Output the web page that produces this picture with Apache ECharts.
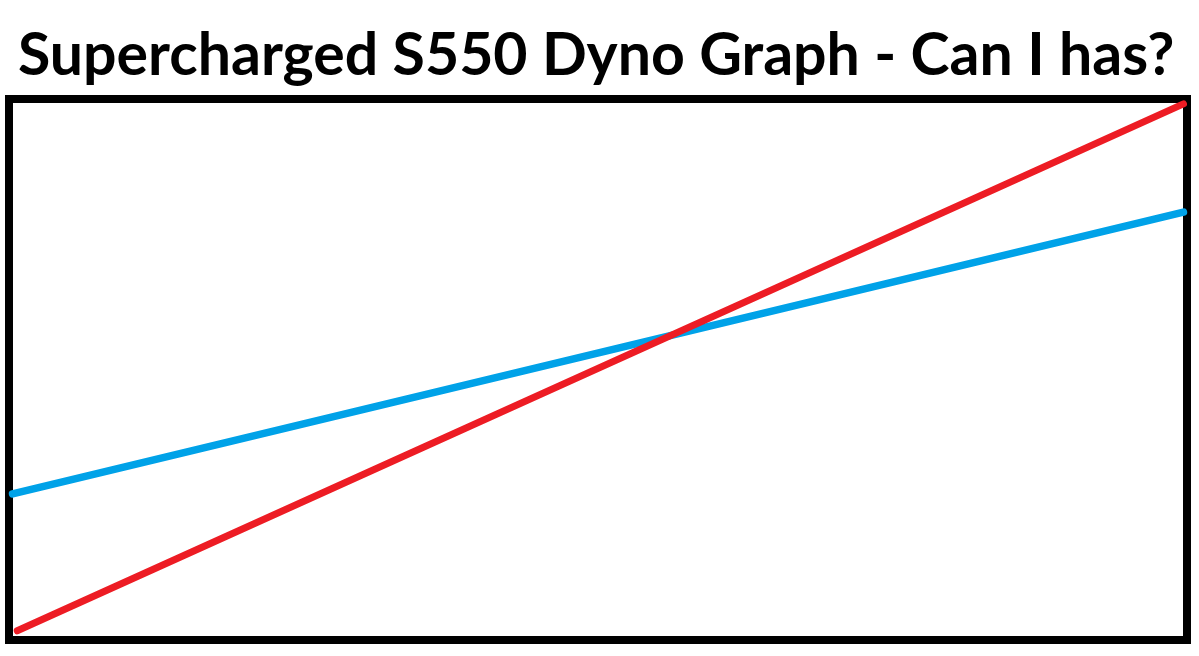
<!DOCTYPE html>
<html>
<head>
<meta charset="utf-8">
<script src="https://cdn.jsdelivr.net/npm/echarts@6/dist/echarts.min.js"></script>
<style>
  html, body { margin: 0; padding: 0; background: #fff; }
  #chart { width: 1199px; height: 656px; }
</style>
</head>
<body>
<div id="chart"></div>
<script>
// hand drawn lines (0-100 on both axes)
const redLine = [[0.7, 1.7], [99.7, 99.1]]
const blueLine = [[0.3, 27.0], [99.7, 79.1]]
const titleText = 'Supercharged S550 Dyno Graph - Can I has?'

const chart = echarts.init(document.getElementById('chart'))

chart.setOption({
  backgroundColor: '#fff',
  animation: false,
  title: {
    text: titleText,
    left: 13,
    top: 21,
    textStyle: {
      fontFamily: 'Lato',
      fontWeight: 'bold',
      fontSize: 59,
      color: '#000'
    }
  },
  grid: {
    left: 9,
    right: 12,
    top: 99,
    bottom: 16,
    show: true,
    borderColor: '#000',
    borderWidth: 8,
    backgroundColor: '#fff'
  },
  xAxis: { type: 'value', min: 0, max: 100, show: false },
  yAxis: { type: 'value', min: 0, max: 100, show: false },
  series: [
    {
      type: 'line',
      data: blueLine,
      symbol: 'none',
      lineStyle: { color: '#00a2e8', width: 7.5, cap: 'round' }
    },
    {
      type: 'line',
      data: redLine,
      symbol: 'none',
      lineStyle: { color: '#ed1c24', width: 7, cap: 'round' }
    }
  ]
})
</script>
</body>
</html>
